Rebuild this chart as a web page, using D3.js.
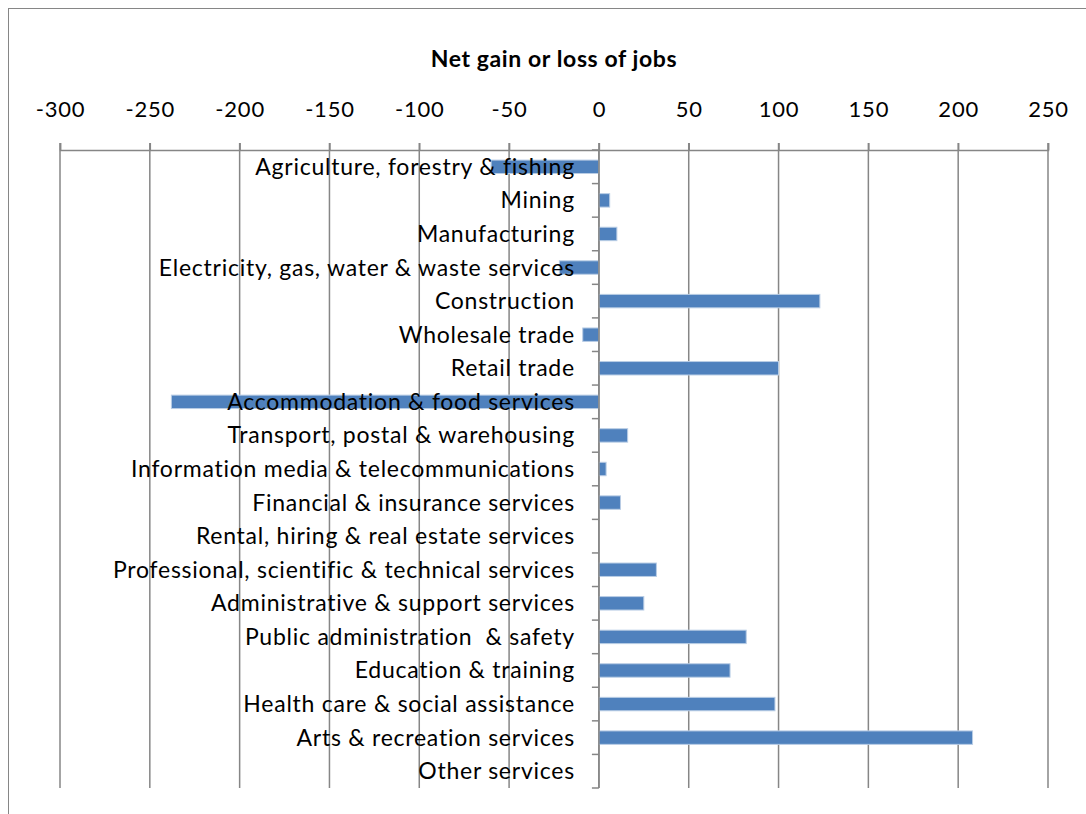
<!DOCTYPE html>
<html>
<head>
<meta charset="utf-8">
<script src="https://cdn.jsdelivr.net/npm/d3@7/dist/d3.min.js"></script>
<style>
  html, body { margin: 0; padding: 0; background: #fff; }
  svg { display: block; }
</style>
</head>
<body>
<div id="chart"></div>
<script>
// Net change in jobs by industry
const categories = [
  "Agriculture, forestry & fishing",
  "Mining",
  "Manufacturing",
  "Electricity, gas, water & waste services",
  "Construction",
  "Wholesale trade",
  "Retail trade",
  "Accommodation & food services",
  "Transport, postal & warehousing",
  "Information media & telecommunications",
  "Financial & insurance services",
  "Rental, hiring & real estate services",
  "Professional, scientific & technical services",
  "Administrative & support services",
  "Public administration  & safety",
  "Education & training",
  "Health care & social assistance",
  "Arts & recreation services",
  "Other services"
];
const netJobs = [-60, 6, 10, -22, 123, -9, 100, -238, 16, 4, 12, 0, 32, 25, 82, 73, 98, 208, 0];
const xTicks = [-300, -250, -200, -150, -100, -50, 0, 50, 100, 150, 200, 250];
const chartTitle = "Net gain or loss of jobs";

const W = 1086, H = 814;
const plot = { left: 60, right: 1048, top: 150, bottom: 788 };

const svg = d3.select("#chart").append("svg")
  .attr("width", W).attr("height", H);

// chart area frame
svg.append("rect")
  .attr("x", 8.5).attr("y", 8.5)
  .attr("width", 1200).attr("height", 1000)
  .attr("fill", "#fff").attr("stroke", "#868686").attr("stroke-width", 1);

const x = d3.scaleLinear()
  .domain([xTicks[0], xTicks[xTicks.length - 1]])
  .range([plot.left, plot.right]);

const y = d3.scaleBand()
  .domain(categories)
  .range([plot.top, plot.bottom])
  .paddingInner(0.6)
  .paddingOuter(0.3);

const font = "Lato, 'Open Sans', sans-serif";
const gridColor = "#868686";

// vertical gridlines
svg.append("g")
  .selectAll("line")
  .data(xTicks)
  .join("line")
  .attr("x1", d => x(d)).attr("x2", d => x(d))
  .attr("y1", plot.top - 7).attr("y2", plot.bottom)
  .attr("stroke", gridColor).attr("stroke-width", 1.5);

// top value axis
const xAxis = d3.axisTop(x).tickValues(xTicks).tickSize(7).tickPadding(26)
  .tickFormat(d3.format("d"));
const gx = svg.append("g")
  .attr("transform", `translate(0,${plot.top})`)
  .call(xAxis);
gx.select(".domain").attr("stroke", gridColor).attr("stroke-width", 1.5);
gx.selectAll(".tick line").attr("stroke", gridColor).attr("stroke-width", 1.5);
gx.selectAll(".tick text")
  .attr("font-family", font).attr("font-size", 22).attr("fill", "#000")
  .attr("letter-spacing", 0.8)
  .text(d => d < 0 ? "-" + Math.abs(d) : d);

// bars
svg.append("g")
  .selectAll("rect")
  .data(categories)
  .join("rect")
  .attr("x", (d, i) => Math.min(x(0), x(netJobs[i])))
  .attr("width", (d, i) => Math.abs(x(netJobs[i]) - x(0)))
  .attr("y", d => y(d))
  .attr("height", y.bandwidth())
  .attr("fill", "#4F81BD")
  .attr("stroke", "#b9cde5").attr("stroke-width", 1);

// category axis along zero
const boundaries = d3.range(categories.length + 1).map(i => plot.top + i * (plot.bottom - plot.top) / categories.length);
const gy = svg.append("g");
gy.append("line")
  .attr("x1", x(0)).attr("x2", x(0))
  .attr("y1", plot.top).attr("y2", plot.bottom)
  .attr("stroke", gridColor).attr("stroke-width", 1.5);
gy.selectAll("line.tk")
  .data(boundaries)
  .join("line")
  .attr("class", "tk")
  .attr("x1", x(0) - 7).attr("x2", x(0))
  .attr("y1", d => d).attr("y2", d => d)
  .attr("stroke", gridColor).attr("stroke-width", 1.5);

// category labels
svg.append("g")
  .selectAll("text")
  .data(categories)
  .join("text")
  .attr("x", x(0) - 24)
  .attr("y", d => y(d) + y.bandwidth() / 2 + 8)
  .attr("text-anchor", "end")
  .attr("font-family", font).attr("font-size", 23).attr("fill", "#000")
  .attr("letter-spacing", 0.75)
  .attr("xml:space", "preserve")
  .text(d => d);

// title
svg.append("text")
  .attr("x", (plot.left + plot.right) / 2)
  .attr("y", 67)
  .attr("text-anchor", "middle")
  .attr("font-family", font).attr("font-size", 23).attr("font-weight", "bold")
  .attr("letter-spacing", 0.6)
  .attr("fill", "#000")
  .text(chartTitle);
</script>
</body>
</html>
